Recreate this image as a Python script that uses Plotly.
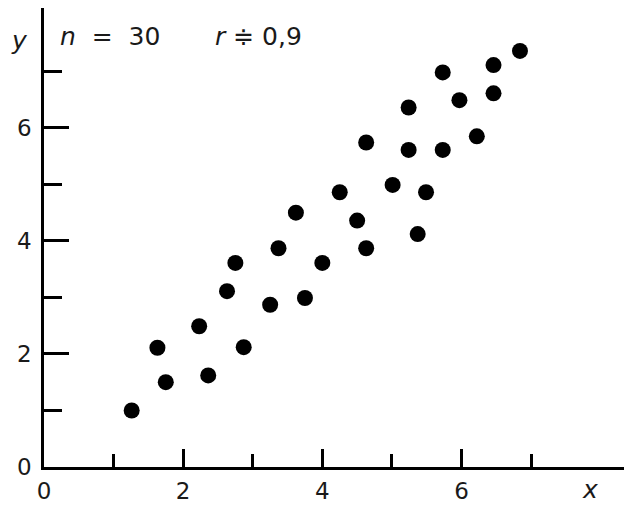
import plotly.graph_objects as go

x_vals = [1.26, 1.75, 1.63, 2.36, 2.23, 2.87, 2.63, 2.75, 3.25, 3.75,
          3.37, 4.00, 3.62, 4.50, 4.63, 4.25, 4.63, 5.01, 5.49, 5.37,
          5.24, 5.73, 5.24, 5.73, 5.97, 6.22, 6.46, 6.46, 6.84]
y_vals = [1.00, 1.50, 2.11, 1.62, 2.49, 2.12, 3.11, 3.61, 2.87, 2.99,
          3.87, 3.61, 4.50, 4.36, 3.87, 4.86, 5.74, 4.99, 4.86, 4.12,
          5.61, 5.61, 6.36, 6.98, 6.49, 5.85, 6.61, 7.11, 7.36]
major_ticks = [0, 2, 4, 6]
minor_ticks = [1, 3, 5, 7]
tick_labels = ["0", "2", "4", "6"]

FONT = "DejaVu Sans"
TXT = "#1a1a1a"

fig = go.Figure()
fig.add_trace(go.Scatter(
    x=x_vals, y=y_vals, mode="markers",
    marker=dict(size=16, color="black", line=dict(width=0)),
    showlegend=False,
))

axis_common = dict(
    showline=True, linecolor="black", linewidth=2.5,
    showgrid=False, zeroline=False,
    ticks="inside", tickcolor="black", tickwidth=2.5,
    tickmode="array", tickvals=major_ticks, ticktext=tick_labels,
    tickfont=dict(family=FONT, size=23, color=TXT),
)

fig.update_xaxes(**axis_common, range=[0, 8.45], ticklen=18,
                 ticklabelstandoff=2,
                 minor=dict(ticks="inside", ticklen=13, tickwidth=2.5,
                            tickcolor="black", tickvals=minor_ticks))
fig.update_yaxes(**axis_common, range=[0, 8.12], ticklen=25,
                 ticklabelstandoff=5,
                 minor=dict(ticks="inside", ticklen=18, tickwidth=2.5,
                            tickcolor="black", tickvals=minor_ticks))

fig.add_annotation(text="<i>y</i>", xref="paper", yref="paper",
                   x=-0.041, y=0.93, xanchor="center", yanchor="middle",
                   showarrow=False, font=dict(family=FONT, size=25, color=TXT))
fig.add_annotation(text="<i>x</i>", xref="paper", yref="paper",
                   x=0.929, y=-0.050, xanchor="center", yanchor="middle",
                   showarrow=False, font=dict(family=FONT, size=25, color=TXT))
fig.add_annotation(text="<i>n</i>&nbsp; = &nbsp;30",
                   xref="paper", yref="paper",
                   x=0.024, y=0.937, xanchor="left", yanchor="middle",
                   showarrow=False, font=dict(family=FONT, size=25, color=TXT))
fig.add_annotation(text="<i>r</i> \u2251 0,9",
                   xref="paper", yref="paper",
                   x=0.287, y=0.937, xanchor="left", yanchor="middle",
                   showarrow=False, font=dict(family=FONT, size=25, color=TXT))

fig.update_layout(
    width=624, height=504,
    margin=dict(l=36, r=0, t=0, b=45),
    plot_bgcolor="white", paper_bgcolor="white",
)

fig.write_html("out.html")
